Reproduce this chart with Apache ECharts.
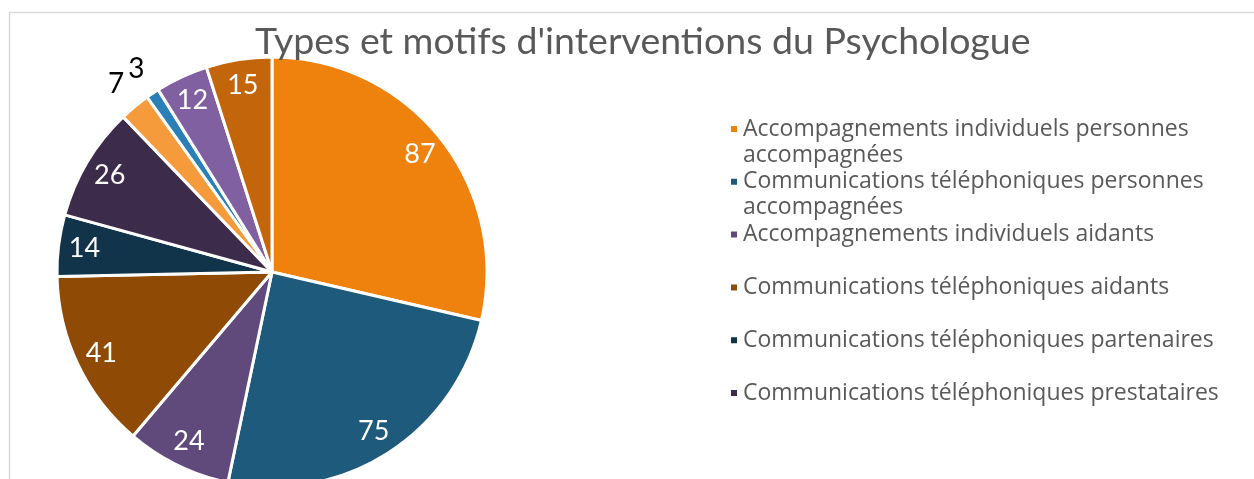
<!DOCTYPE html>
<html lang="fr">
<head>
    <meta charset="UTF-8">
    <title>Types et motifs d'interventions du Psychologue</title>
    <script src="https://cdn.jsdelivr.net/npm/echarts@6/dist/echarts.min.js"></script>
    <style>
        html, body { margin: 0; padding: 0; background: #fff; }
        #main { width: 1254px; height: 479px; }
    </style>
</head>
<body>
    <div id="main"></div>
    <script>
        // donnees
        var labels = [
            'Accompagnements individuels personnes accompagnées',
            'Communications téléphoniques personnes accompagnées',
            'Accompagnements individuels aidants',
            'Communications téléphoniques aidants',
            'Communications téléphoniques partenaires',
            'Communications téléphoniques prestataires',
            'Accompagnements individuels partenaires',
            'Accompagnements individuels prestataires',
            'Réunions partenaires',
            'Autres interventions'
        ];
        var values = [87, 75, 24, 41, 14, 26, 7, 3, 12, 15];
        var colors = ['#ef820d', '#1d5a7b', '#604a7b', '#8f4b05', '#12344a', '#3c2b4a',
                      '#f59b3c', '#2a80b6', '#8060a0', '#c3650a'];
        // seules les 6 premieres entrees sont visibles dans la legende
        var legendNames = labels.slice(0, 6);
        var legendText = {
            'Accompagnements individuels personnes accompagnées': 'Accompagnements individuels personnes\naccompagnées',
            'Communications téléphoniques personnes accompagnées': 'Communications téléphoniques personnes\naccompagnées'
        };
        var outsideLabels = [6, 7]; // 7 et 3 sont ecrits hors du camembert

        var cx = 272, cy = 272, R = 215;
        var font = 'Lato';

        var mychart = echarts.init(document.getElementById('main'));

        function pieData(fn) {
            return values.map(function (v, i) {
                return fn({ name: labels[i], value: v }, i);
            });
        }

        var option = {
            animation: false,
            title: {
                text: "Types et motifs d'interventions du Psychologue",
                left: 250,
                top: 18,
                textStyle: { color: '#595959', fontSize: 37.5, fontWeight: 'normal', fontFamily: font }
            },
            legend: {
                orient: 'vertical',
                left: 724,
                top: 85,
                itemWidth: 8,
                itemHeight: 8,
                itemGap: -25.2,
                icon: 'rect',
                data: legendNames,
                formatter: function (name) {
                    var t = legendText[name] || (name + '\n');
                    return '\n' + t;
                },
                textStyle: { color: '#595959', fontSize: 23, lineHeight: 26, fontFamily: 'Open Sans' }
            },
            graphic: [{
                type: 'rect',
                silent: true,
                shape: { x: 9.5, y: 12.5, width: 1300, height: 600 },
                style: { fill: 'none', stroke: '#d9d9d9', lineWidth: 1.5 },
                z: -10
            }],
            series: [{
                // camembert visible
                type: 'pie',
                center: [cx, cy],
                radius: [0, R],
                startAngle: 90,
                clockwise: true,
                silent: true,
                label: { show: false },
                labelLine: { show: false },
                itemStyle: { borderColor: '#fff', borderWidth: 3 },
                data: pieData(function (d, i) {
                    d.itemStyle = { color: colors[i] };
                    return d;
                })
            }, {
                // etiquettes blanches a l'interieur
                type: 'pie',
                center: [cx, cy],
                radius: [0, 2 * 186],
                startAngle: 90,
                silent: true,
                itemStyle: { color: 'rgba(0,0,0,0)' },
                labelLine: { show: false },
                label: {
                    show: true, position: 'inside', formatter: '{c}',
                    color: '#fff', fontSize: 27, fontFamily: font
                },
                data: pieData(function (d, i) {
                    if (outsideLabels.indexOf(i) >= 0) d.label = { show: false };
                    return d;
                })
            }, {
                // etiquettes noires a l'exterieur
                type: 'pie',
                center: [cx, cy],
                radius: [0, 2 * 241],
                startAngle: 90,
                silent: true,
                itemStyle: { color: 'rgba(0,0,0,0)' },
                labelLine: { show: false },
                label: {
                    show: true, position: 'inside', formatter: '{c}',
                    color: '#000', fontSize: 28, fontFamily: font
                },
                data: pieData(function (d, i) {
                    if (outsideLabels.indexOf(i) < 0) d.label = { show: false };
                    return d;
                })
            }]
        };

        mychart.setOption(option);
    </script>
</body>
</html>
